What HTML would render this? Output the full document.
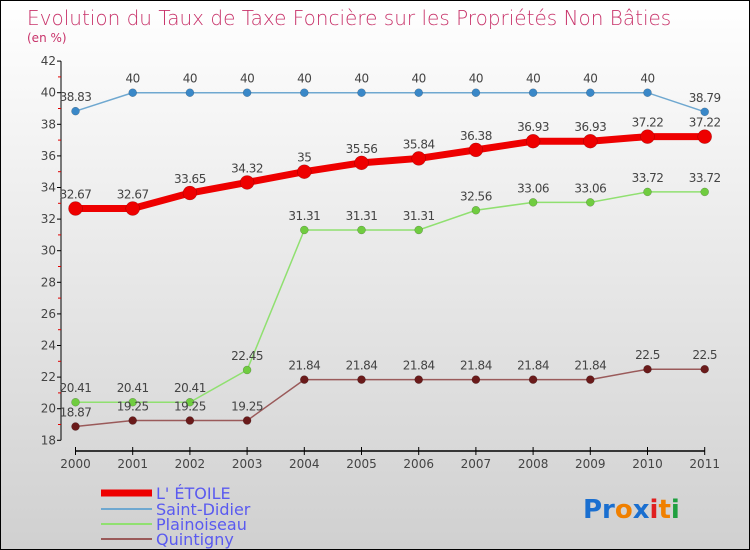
<!DOCTYPE html>
<html><head><meta charset="utf-8"><style>
body{margin:0}
#c{width:750px;height:550px;position:relative;font-family:"DejaVu Sans","Liberation Sans",sans-serif;overflow:hidden;background:linear-gradient(#ffffff,#d0d0d0);box-sizing:border-box;border:1px solid #000}
</style></head><body>
<div id="c">
<svg id="s" width="750" height="550" style="position:absolute;left:0;top:0">
<text x="26" y="24" font-size="20" fill="#c8336a" style="font-family:'DejaVu Sans',sans-serif;font-weight:200">Evolution du Taux de Taxe Foncière sur les Propriétés Non Bâties</text>
<text x="26" y="41" font-size="12" fill="#c8336a">(en %)</text>
<g id="ax"></g><g id="series"></g>
<g>
<line x1="100" y1="492" x2="151" y2="492" stroke="#ee0000" stroke-width="7"/>
<text x="155" y="498" font-size="16" fill="#5a5af0">L' ÉTOILE</text>
<line x1="100" y1="508" x2="151" y2="508" stroke="#6fa8d0" stroke-width="2"/>
<text x="155" y="514" font-size="16" fill="#5a5af0">Saint-Didier</text>
<line x1="100" y1="523" x2="151" y2="523" stroke="#90e070" stroke-width="2"/>
<text x="155" y="529" font-size="16" fill="#5a5af0">Plainoiseau</text>
<line x1="100" y1="538" x2="151" y2="538" stroke="#9a5a5a" stroke-width="2"/>
<text x="155" y="544" font-size="16" fill="#5a5af0">Quintigny</text>
</g>
<g font-size="26" font-weight="bold" style="font-family:'DejaVu Sans',sans-serif">
<text x="582" y="517"><tspan fill="#1a6fd0">Pr</tspan><tspan fill="#f08000">o</tspan><tspan fill="#1a6fd0">x</tspan><tspan fill="#e02020">i</tspan><tspan fill="#f08000">t</tspan><tspan fill="#20a040">i</tspan></text>
</g>
</svg></div>
<script>
const years=["2000","2001","2002","2003","2004","2005","2006","2007","2008","2009","2010","2011"];
const etoile=[32.67,32.67,33.65,34.32,35,35.56,35.84,36.38,36.93,36.93,37.22,37.22];
const saintDidier=[38.83,40,40,40,40,40,40,40,40,40,40,38.79];
const plainoiseau=[20.41,20.41,20.41,22.45,31.31,31.31,31.31,32.56,33.06,33.06,33.72,33.72];
const quintigny=[18.87,19.25,19.25,19.25,21.84,21.84,21.84,21.84,21.84,21.84,22.5,22.5];
const yTicks=[18,20,22,24,26,28,30,32,34,36,38,40,42];
const NS="http://www.w3.org/2000/svg";
const X=i=>74.5+i*57.2, Y=v=>91.7+(40-v)*15.8;
function mk(t,a,p){const e=document.createElementNS(NS,t);for(const k in a)e.setAttribute(k,a[k]);p.appendChild(e);return e;}
const ax=document.getElementById('ax');
let l=mk('line',{x1:60,y1:Y(42),x2:60,y2:Y(18),stroke:'#000'},ax);

l=mk('line',{x1:X(0),y1:450,x2:X(11),y2:450,stroke:'#000','stroke-width':1.5},ax);

yTicks.forEach(v=>{mk('line',{x1:56,y1:Y(v),x2:60,y2:Y(v),stroke:'#000'},ax);
 if(v<42)mk('line',{x1:57,y1:Y(v+1),x2:60,y2:Y(v+1),stroke:'#e00000'},ax);
 const t=mk('text',{x:55,y:Y(v)+4,'font-size':12,fill:'#444','text-anchor':'end'},ax);t.textContent=v;
 });
years.forEach((y,i)=>{mk('line',{x1:X(i),y1:446,x2:X(i),y2:454,stroke:'#000'},ax);
 const t=mk('text',{x:X(i),y:467,'font-size':12,fill:'#444','text-anchor':'middle'},ax);t.textContent=y;
 });
const sg=document.getElementById('series');
function series(d,col,w,r,name,dotcol){const g=mk('g',{},sg);
 
 mk('polyline',{points:d.map((v,i)=>X(i)+','+Y(v)).join(' '),fill:'none',stroke:col,'stroke-width':w},g);
 d.forEach((v,i)=>{const c=mk('circle',{cx:X(i),cy:Y(v),r:r,fill:dotcol,stroke:'rgba(0,0,0,0.3)','stroke-width':0.5},g);
  
  const t=mk('text',{x:X(i),y:Y(v)-10,'font-size':12,fill:'#444','text-anchor':'middle','letter-spacing':'-0.5'},g);t.textContent=v;
  });}
series(saintDidier,'#6fa8d0',1.5,4,'saint-didier','#3a88c8');
series(plainoiseau,'#90e070',1.5,4,'plainoiseau','#70cc40');
series(quintigny,'#9a5a5a',1.5,4,'quintigny','#6a1a1a');
series(etoile,'#ee0000',7,7,'etoile','#ee0000');
</script>
</body></html>
